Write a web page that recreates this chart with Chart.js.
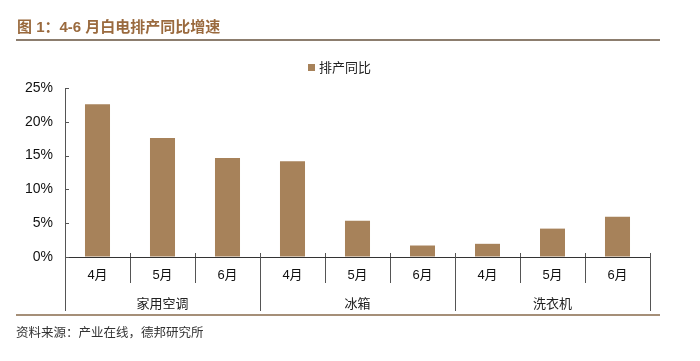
<!DOCTYPE html>
<html>
<head>
<meta charset="utf-8">
<script src="https://cdn.jsdelivr.net/npm/chart.js@4"></script>
<style>
  html,body{margin:0;padding:0;background:#fff;}
  #wrap{position:relative;width:700px;height:361px;overflow:hidden;}
  canvas{position:absolute;left:0;top:0;}
  .title{position:absolute;left:17px;top:15px;font:bold 15px "Liberation Sans","Noto Sans CJK SC",sans-serif;color:#9a6a3e;white-space:nowrap;}
  .rule{position:absolute;left:16px;width:644px;height:2px;}
  .legend{position:absolute;left:308px;top:57px;font:13px "Liberation Sans","Noto Sans CJK SC",sans-serif;color:#222;white-space:nowrap;}
  .legend i{display:inline-block;width:7px;height:7px;background:#a7825a;margin-right:4px;vertical-align:1px;}
  .source{position:absolute;left:16px;top:322px;font:12.5px "Noto Sans CJK SC",sans-serif;color:#333;white-space:nowrap;}
</style>
</head>
<body>
<div id="wrap">
  <canvas id="c" width="700" height="361"></canvas>
  <div class="title">图 1：4-6 月白电排产同比增速</div>
  <div class="rule" style="top:39px;background:#8c7d6e;"></div>
  <div class="legend"><i></i>排产同比</div>
  <div class="rule" style="top:314px;background:#a58f78;"></div>
  <div class="source">资料来源：产业在线，德邦研究所</div>
</div>
<script>
const months = ['4月','5月','6月','4月','5月','6月','4月','5月','6月'];
const groups = ['家用空调','冰箱','洗衣机'];
const groupSizes = [3,3,3];
const seriesName = '排产同比';
const values = [22.6, 17.6, 14.65, 14.15, 5.35, 1.7, 1.95, 4.2, 5.95];
const yTicks = [0,5,10,15,20,25];

const axisColor = '#555';

const extras = {
  id:'extras',
  afterDraw(chart){
    const x = chart.scales.x, y = chart.scales.y, ctx = chart.ctx;
    const w = x.getPixelForValue(1) - x.getPixelForValue(0);
    const x0 = x.getPixelForValue(0) - w/2;
    ctx.save();
    ctx.strokeStyle = axisColor; ctx.lineWidth = 1;
    ctx.beginPath();
    // inward y ticks
    y.ticks.forEach((t,i)=>{
      const py = Math.round(y.getPixelForTick(i)) + 0.5;
      ctx.moveTo(y.right, py); ctx.lineTo(y.right + 4, py);
    });
    // small ticks above x axis
    for(let i=0;i<=months.length;i++){
      const bx = Math.round(x0 + i*w) + 0.5;
      ctx.moveTo(bx, y.bottom - 4); ctx.lineTo(bx, y.bottom);
    }
    // group separators extended
    let idx = 0;
    const bounds = [0];
    groupSizes.forEach(s=>{ idx += s; bounds.push(idx); });
    bounds.forEach(b=>{
      const bx = Math.round(x0 + b*w) + 0.5;
      ctx.moveTo(bx, y.bottom); ctx.lineTo(bx, 311);
    });
    ctx.stroke();
    ctx.restore();
  }
};

new Chart(document.getElementById('c'), {
  type:'bar',
  data:{
    labels: months,
    datasets:[{
      label: seriesName,
      data: values,
      backgroundColor:'#a7825a',
      borderWidth:0,
      categoryPercentage:1,
      barPercentage:0.385,
      xAxisID:'x', yAxisID:'y'
    }]
  },
  options:{
    responsive:false,
    animation:false,
    devicePixelRatio:1,
    layout:{padding:{left:0,right:50,top:88,bottom:0}},
    plugins:{legend:{display:false},tooltip:{enabled:false},title:{display:false}},
    scales:{
      y:{
        min:0,max:25,
        afterBuildTicks(s){ s.ticks = yTicks.map(v=>({value:v})); },
        afterFit(s){ s.width = 65; },
        ticks:{callback:v=>v+'%',color:'#111',font:{family:'"Liberation Sans", Arial, sans-serif',size:14},padding:12},
        grid:{display:true,drawOnChartArea:false,drawTicks:false},
        border:{display:true,color:axisColor,width:1}
      },
      x:{
        type:'category',
        position:'bottom',
        offset:true,
        afterFit(s){ s.height = 36; },
        ticks:{color:'#111',font:{family:'"Liberation Sans","Noto Sans CJK SC",sans-serif',size:13},padding:-15,maxRotation:0,autoSkip:false},
        grid:{display:true,drawOnChartArea:false,drawTicks:true,tickLength:26,color:axisColor,offset:true},
        border:{display:true,color:'#333',width:1}
      },
      xg:{
        type:'category',
        position:'bottom',
        labels: groups,
        offset:true,
        afterFit(s){ s.height = 68; },
        ticks:{color:'#222',font:{family:'"Noto Sans CJK SC",sans-serif',size:13},padding:2,maxRotation:0,autoSkip:false},
        grid:{display:false,drawTicks:false},
        border:{display:false}
      }
    }
  },
  plugins:[extras]
});
</script>
</body>
</html>
